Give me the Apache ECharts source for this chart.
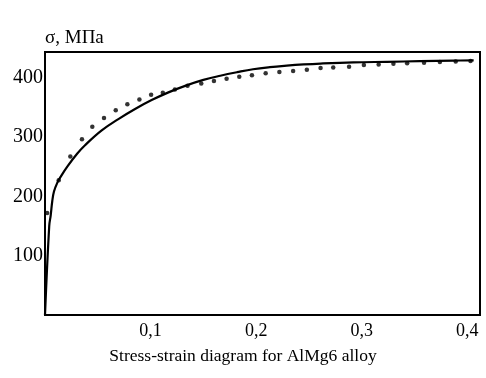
<!DOCTYPE html>
<html>
<head>
<meta charset="utf-8">
<script src="https://cdn.jsdelivr.net/npm/echarts@6/dist/echarts.min.js"></script>
<style>
  html, body { margin: 0; padding: 0; background: #fff; }
  #chart { width: 486px; height: 378px; }
</style>
</head>
<body>
<div id="chart"></div>
<script>
// fitted curve (strain, stress MPa)
const curveStrain = [0, 0.004, 0.0054, 0.0069, 0.0085, 0.0117, 0.0149, 0.0211, 0.0306, 0.0379,
  0.0537, 0.0695, 0.0853, 0.101, 0.1169, 0.1327, 0.150, 0.166, 0.182, 0.197,
  0.213, 0.229, 0.245, 0.261, 0.292, 0.324, 0.355, 0.387, 0.406];
const curveStress = [0, 150, 168, 192, 208, 223, 233, 250, 272, 286,
  311, 330, 347, 362, 375, 386, 396, 403, 409, 414,
  417.5, 420, 422, 423.5, 425.5, 426.5, 427.5, 428.5, 429];

// experimental points
const pointStrain = [0.002, 0.013, 0.024, 0.035, 0.0448, 0.0559, 0.067, 0.078, 0.0894, 0.1005,
  0.1116, 0.123, 0.135, 0.148, 0.160, 0.172, 0.184, 0.196, 0.209, 0.222,
  0.235, 0.248, 0.261, 0.273, 0.288, 0.302, 0.316, 0.330, 0.343, 0.359,
  0.374, 0.389, 0.403];
const pointStress = [172, 227, 267, 296, 317, 332, 345, 355, 363, 371,
  374.5, 380, 386, 390, 394, 398, 401.5, 404, 407, 409.5,
  411, 413, 416, 417, 418, 421, 422, 423, 424, 425,
  426, 427, 428];

const serif = "'Liberation Serif', 'Times New Roman', serif";

const chart = echarts.init(document.getElementById('chart'), null, { renderer: 'canvas' });

chart.setOption({
  animation: false,
  backgroundColor: '#fff',
  textStyle: { fontFamily: serif, color: '#000' },
  title: {
    text: 'Stress-strain diagram for AlMg6 alloy',
    left: 'center',
    top: 342,
    textStyle: { fontFamily: serif, fontSize: 17.5, fontWeight: 'normal', color: '#000' }
  },
  grid: {
    left: 45,
    right: 6,
    top: 52,
    bottom: 63,
    show: true,
    borderColor: '#000',
    borderWidth: 2
  },
  xAxis: {
    type: 'value',
    min: 0,
    max: 0.412,
    interval: 0.1,
    axisLine: { show: true, lineStyle: { color: '#000', width: 2 } },
    axisTick: { show: false },
    splitLine: { show: false },
    axisLabel: {
      showMinLabel: false,
      showMaxLabel: false,
      margin: 7,
      fontFamily: serif,
      fontSize: 18,
      color: '#000',
      formatter: (v) => v.toFixed(1).replace('.', ',')
    }
  },
  yAxis: {
    type: 'value',
    min: 0,
    max: 443,
    interval: 100,
    name: 'σ, МПа',
    nameLocation: 'end',
    nameGap: 4,
    nameTextStyle: { fontFamily: serif, fontSize: 19, color: '#000', align: 'left' },
    axisLine: { show: true, lineStyle: { color: '#000', width: 2 } },
    axisTick: { show: false },
    splitLine: { show: false },
    axisLabel: {
      showMinLabel: false,
      showMaxLabel: false,
      margin: 2,
      fontFamily: serif,
      fontSize: 20,
      color: '#000'
    }
  },
  series: [
    {
      name: 'model',
      type: 'line',
      smooth: 0.4,
      symbol: 'none',
      lineStyle: { color: '#000', width: 2.2 },
      data: curveStrain.map((x, i) => [x, curveStress[i]])
    },
    {
      name: 'experiment',
      type: 'scatter',
      symbolSize: 4.5,
      itemStyle: { color: '#000' },
      data: pointStrain.map((x, i) => [x, pointStress[i]])
    }
  ]
});
</script>
</body>
</html>
